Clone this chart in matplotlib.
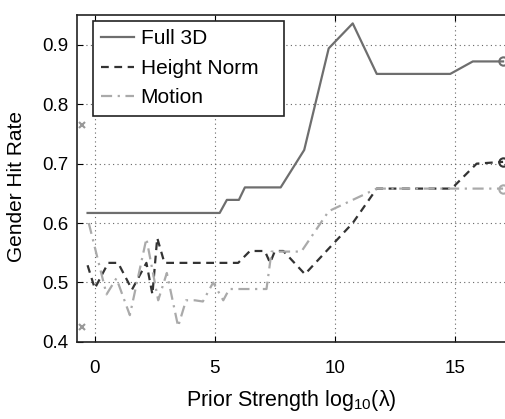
import matplotlib
matplotlib.use("Agg")
import matplotlib.pyplot as plt

plt.rcParams["font.family"] = ["Liberation Sans", "DejaVu Sans"]
plt.rcParams["mathtext.fontset"] = "custom"
plt.rcParams["mathtext.rm"] = "Liberation Sans"
plt.rcParams["mathtext.it"] = "Liberation Sans:italic"

# data
full_x = [-0.3, 5.2, 5.5, 6.0, 6.25, 7.74, 8.72, 9.74, 10.74, 11.74, 14.8, 15.74, 17.0]
full_y = [0.617, 0.617, 0.639, 0.639, 0.66, 0.66, 0.723, 0.894, 0.936, 0.851, 0.851, 0.872, 0.872]

height_x = [-0.3, 0.0, 0.56, 0.97, 1.55, 2.15, 2.4, 2.6, 2.9, 5.97, 6.46, 7.08, 7.3, 7.5,
            7.85, 8.75, 9.74, 10.74, 11.74, 14.86, 15.9, 17.0]
height_y = [0.529, 0.49, 0.533, 0.533, 0.488, 0.533, 0.48, 0.575, 0.533, 0.533, 0.553, 0.553,
            0.533, 0.553, 0.553, 0.514, 0.557, 0.60, 0.658, 0.658, 0.70, 0.703]

motion_x = [-0.25, 0.49, 0.9, 1.46, 2.15, 2.64, 3.0, 3.47, 3.8, 4.17, 4.5, 4.93, 5.35, 5.6,
            7.15, 7.36, 8.6, 9.74, 10.74, 11.74, 17.0]
motion_y = [0.60, 0.48, 0.507, 0.445, 0.574, 0.47, 0.516, 0.426, 0.47, 0.47, 0.468, 0.50,
            0.47, 0.489, 0.489, 0.552, 0.552, 0.62, 0.639, 0.658, 0.658]

cross_x = [-0.54, -0.54]
cross_y = [0.765, 0.425]

c_full = "#6e6e6e"
c_height = "#333333"
c_motion = "#aaaaaa"

fig = plt.figure(figsize=(5.05, 4.19), dpi=100)
ax = fig.add_axes([0.152, 0.184, 0.848, 0.780])

ax.plot(full_x, full_y, color=c_full, lw=1.6, ls="-", label="Full 3D")
ax.plot(height_x, height_y, color=c_height, lw=1.6, ls=(0, (3.5, 2.5)), label="Height Norm")
ax.plot(motion_x, motion_y, color=c_motion, lw=1.6, ls=(0, (5, 2.5, 1, 2.5)), label="Motion")

# end markers
ax.plot(full_x[-1], full_y[-1], "o", mfc="none", mec=c_full, mew=1.5, ms=6)
ax.plot(height_x[-1], height_y[-1], "o", mfc="none", mec=c_height, mew=1.5, ms=6)
ax.plot(motion_x[-1], motion_y[-1], "o", mfc="none", mec=c_motion, mew=1.5, ms=6)
ax.plot(cross_x, cross_y, "x", color="#999999", mew=1.5, ms=5)

ax.set_xlim(-0.75, 17.08)
ax.set_ylim(0.4, 0.95)
ax.set_xticks([0, 5, 10, 15])
ax.set_yticks([0.4, 0.5, 0.6, 0.7, 0.8, 0.9])
ax.set_yticklabels(["0.4", "0.5", "0.6", "0.7", "0.8", "0.9"])
ax.tick_params(direction="in", labelsize=13.5, length=4, top=True)
ax.tick_params(axis="x", pad=13)
ax.tick_params(axis="y", pad=6)
ax.grid(True, ls=(0, (1, 3)), color="#666666", lw=0.8)
ax.spines["right"].set_visible(False)
for s in ["left", "bottom", "top"]:
    ax.spines[s].set_linewidth(1.2)
    ax.spines[s].set_color("#222222")

ax.set_xlabel(r"Prior Strength log$_{\rm 10}$(λ)", fontsize=15.5)
ax.set_ylabel("Gender Hit Rate", fontsize=15)
ax.xaxis.set_label_coords(0.5, -0.14)
ax.yaxis.set_label_coords(-0.118, 0.475)

leg = ax.legend(loc="upper left", bbox_to_anchor=(0.0374, 0.0, 0.446, 0.9817),
                mode="expand", borderaxespad=0, fontsize=15, fancybox=False,
                framealpha=1, edgecolor="#222222", handlelength=1.6,
                handletextpad=0.3, labelspacing=0.5, borderpad=0.4)
leg.get_frame().set_linewidth(1.2)

fig.savefig("out.png", dpi=100)
